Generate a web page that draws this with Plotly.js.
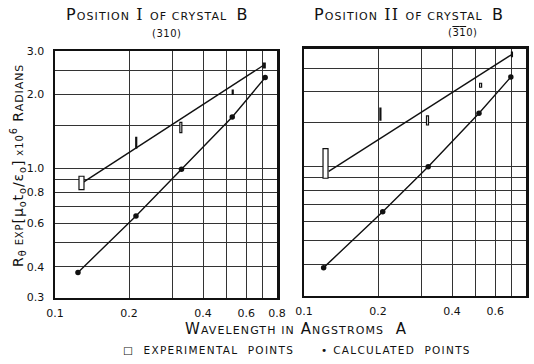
<!DOCTYPE html>
<html><head><meta charset="utf-8">
<script src="https://cdn.plot.ly/plotly-3.0.1.min.js"></script>
<style>html,body{margin:0;padding:0;background:#fff}</style>
</head><body><div id="chart" style="width:534px;height:364px"></div>
<script>
// ---------- tick values / labels ----------
const wavelengthLabelTicks = [0.1, 0.2, 0.4, 0.6, 0.8];
const wavelengthTickText = ["0.1", "0.2", "0.4", "0.6", "0.8"];
const wavelengthGridTicks = [0.3, 0.5, 0.7];
const rLabelTicks = [0.3, 0.4, 0.6, 0.8, 1.0, 2.0, 3.0];
const rTickText = ["0.3", "0.4", "0.6", "0.8", "1.0", "2.0", "3.0"];
const rGridTicks = [0.5, 0.7, 0.9, 1.5, 2.5];

// ---------- Position I of crystal B (310) ----------
const calcX_I = [0.124, 0.2135, 0.327, 0.526, 0.716];
const calcY_I = [0.379, 0.643, 0.995, 1.62, 2.34];
const expX_I = [0.1252, 0.213, 0.322, 0.526, 0.703];
const expLow_I = [0.822, 1.21, 1.40, 2.00, 2.56];
const expHigh_I = [0.931, 1.34, 1.54, 2.08, 2.68];
const fitX_I = [0.131, 0.703];
const fitY_I = [0.883, 2.62];

// ---------- Position II of crystal B (3-1-0) ----------
const calcX_II = [0.1202, 0.209, 0.320, 0.515, 0.694];
const calcY_II = [0.389, 0.655, 0.997, 1.64, 2.30];
const expX_II = [0.1195, 0.2036, 0.315, 0.518, 0.698];
const expLow_II = [0.895, 1.54, 1.47, 2.09, 2.78];
const expHigh_II = [1.18, 1.72, 1.60, 2.17, 2.90];
const fitX_II = [0.126, 0.698];
const fitY_II = [0.955, 2.83];

// ---------- styles ----------
const INK = '#111';
const GRID = '#333';
const FONT = 'DejaVu Sans';
const boxStyle = {
  I:  {w: [10, 2, 4, 2, 4], fill: ['#fff', '#fff', '#fff', '#fff', INK]},
  II: {w: [10, 2, 4, 4, 2], fill: ['#fff', '#fff', '#fff', '#fff', INK]}
};

function lineTrace(x, y, xa, ya) {
  return {x: x, y: y, xaxis: xa, yaxis: ya, mode: 'lines', type: 'scatter',
          line: {color: INK, width: 1.4}, hoverinfo: 'skip', showlegend: false};
}
function calcTrace(x, y, xa, ya) {
  return {x: x, y: y, xaxis: xa, yaxis: ya, mode: 'lines+markers', type: 'scatter',
          line: {color: INK, width: 1.4}, marker: {color: INK, size: 5.5},
          hoverinfo: 'skip', showlegend: false};
}
function boxShapes(xs, lo, hi, st, xref, yref) {
  return xs.map((x, i) => ({
    type: 'rect', xref: xref, yref: yref, xsizemode: 'pixel', xanchor: x,
    x0: -st.w[i] / 2, x1: st.w[i] / 2, y0: lo[i], y1: hi[i],
    line: {color: INK, width: 1.2}, fillcolor: st.fill[i], layer: 'above'
  }));
}

const traces = [
  lineTrace(fitX_I, fitY_I, 'x', 'y'),
  calcTrace(calcX_I, calcY_I, 'x', 'y'),
  lineTrace(fitX_II, fitY_II, 'x2', 'y2'),
  calcTrace(calcX_II, calcY_II, 'x2', 'y2')
];

const W = 534, H = 364;
const axBase = {
  type: 'log', showline: true, linecolor: INK, linewidth: 2.5, mirror: true,
  showgrid: true, gridcolor: GRID, gridwidth: 1, ticks: '', zeroline: false,
  tickfont: {family: FONT, size: 11, color: INK}, fixedrange: true, tickmode: 'array'
};
const xBase = Object.assign({}, axBase, {
  range: [Math.log10(0.1), Math.log10(0.8)], tickvals: wavelengthLabelTicks,
  ticktext: wavelengthTickText, ticklabelstandoff: 4,
  minor: {tickmode: 'array', tickvals: wavelengthGridTicks, showgrid: true, gridcolor: GRID, gridwidth: 1, ticks: ''}
});
const yBase = Object.assign({}, axBase, {
  range: [Math.log10(0.3), Math.log10(3.0)], tickvals: rLabelTicks, ticktext: rTickText,
  ticklabelstandoff: 6,
  minor: {tickmode: 'array', tickvals: rGridTicks, showgrid: true, gridcolor: GRID, gridwidth: 1, ticks: ''}
});

const px = v => v / W, py = v => 1 - v / H;
const sc = (t, s) => `<span style="font-size:${s}px">${t}</span>`;
const spaced = (t, ls) => `<span style="letter-spacing:${ls}px">${t}</span>`;
const serif = t => `<span style="font-family:'DejaVu Serif'">${t}</span>`;
const bar = t => `<span style="text-decoration:overline">${t}</span>`;

function ann(text, x, y, size, extra) {
  return Object.assign({text: text, x: px(x), y: py(y), xref: 'paper', yref: 'paper',
    showarrow: false, xanchor: 'center', yanchor: 'middle',
    font: {family: FONT, size: size, color: INK}}, extra || {});
}

const layout = {
  width: W, height: H, margin: {l: 0, r: 0, t: 0, b: 0},
  paper_bgcolor: '#fff', plot_bgcolor: '#fff', showlegend: false,
  xaxis: Object.assign({}, xBase, {domain: [px(55), px(277)], anchor: 'y'}),
  yaxis: Object.assign({}, yBase, {domain: [py(297.5), py(51)], anchor: 'x'}),
  xaxis2: Object.assign({}, xBase, {domain: [px(304), px(526)], anchor: 'y2'}),
  yaxis2: Object.assign({}, yBase, {domain: [py(295.5), py(48.5)], anchor: 'x2', showticklabels: false}),
  shapes: boxShapes(expX_I, expLow_I, expHigh_I, boxStyle.I, 'x', 'y')
    .concat(boxShapes(expX_II, expLow_II, expHigh_II, boxStyle.II, 'x2', 'y2')),
  annotations: [
    ann(spaced('P' + sc('OSITION', 11) + serif(' I ') + sc('OF CRYSTAL  ', 11) + 'B', 1.1), 157, 15, 16),
    ann(spaced('(310)', 0.5), 166, 33, 10),
    ann(spaced('P' + sc('OSITION', 11) + serif(' II ') + sc('OF CRYSTAL  ', 11) + 'B', 1.1), 409, 15, 16),
    ann(spaced('(' + bar('3') + bar('1') + '0)', 0.5), 462, 32, 10),
    ann(spaced('R<sub>θ</sub>' + sc(' EXP', 10) + '[μ<sub>o</sub>t<sub>o</sub>/ε<sub>o</sub>]' + sc(' x10', 10) + '<sup>6</sup>' + ' R' + sc('ADIANS', 11), 0.9),
        18, 166, 14, {textangle: -90}),
    ann(spaced('W' + sc('AVELENGTH IN', 11) + ' A' + sc('NGSTROMS', 11) + '  A', 1.1), 296, 329, 15),
    ann(spaced('\u25A1  EXPERIMENTAL  POINTS', 1.3), 208, 350, 10.5),
    ann(spaced('\u2022 CALCULATED  POINTS', 1.3), 396, 350, 10.5)
  ]
};

Plotly.newPlot('chart', traces, layout, {staticPlot: true, displayModeBar: false});
</script>
</body></html>
